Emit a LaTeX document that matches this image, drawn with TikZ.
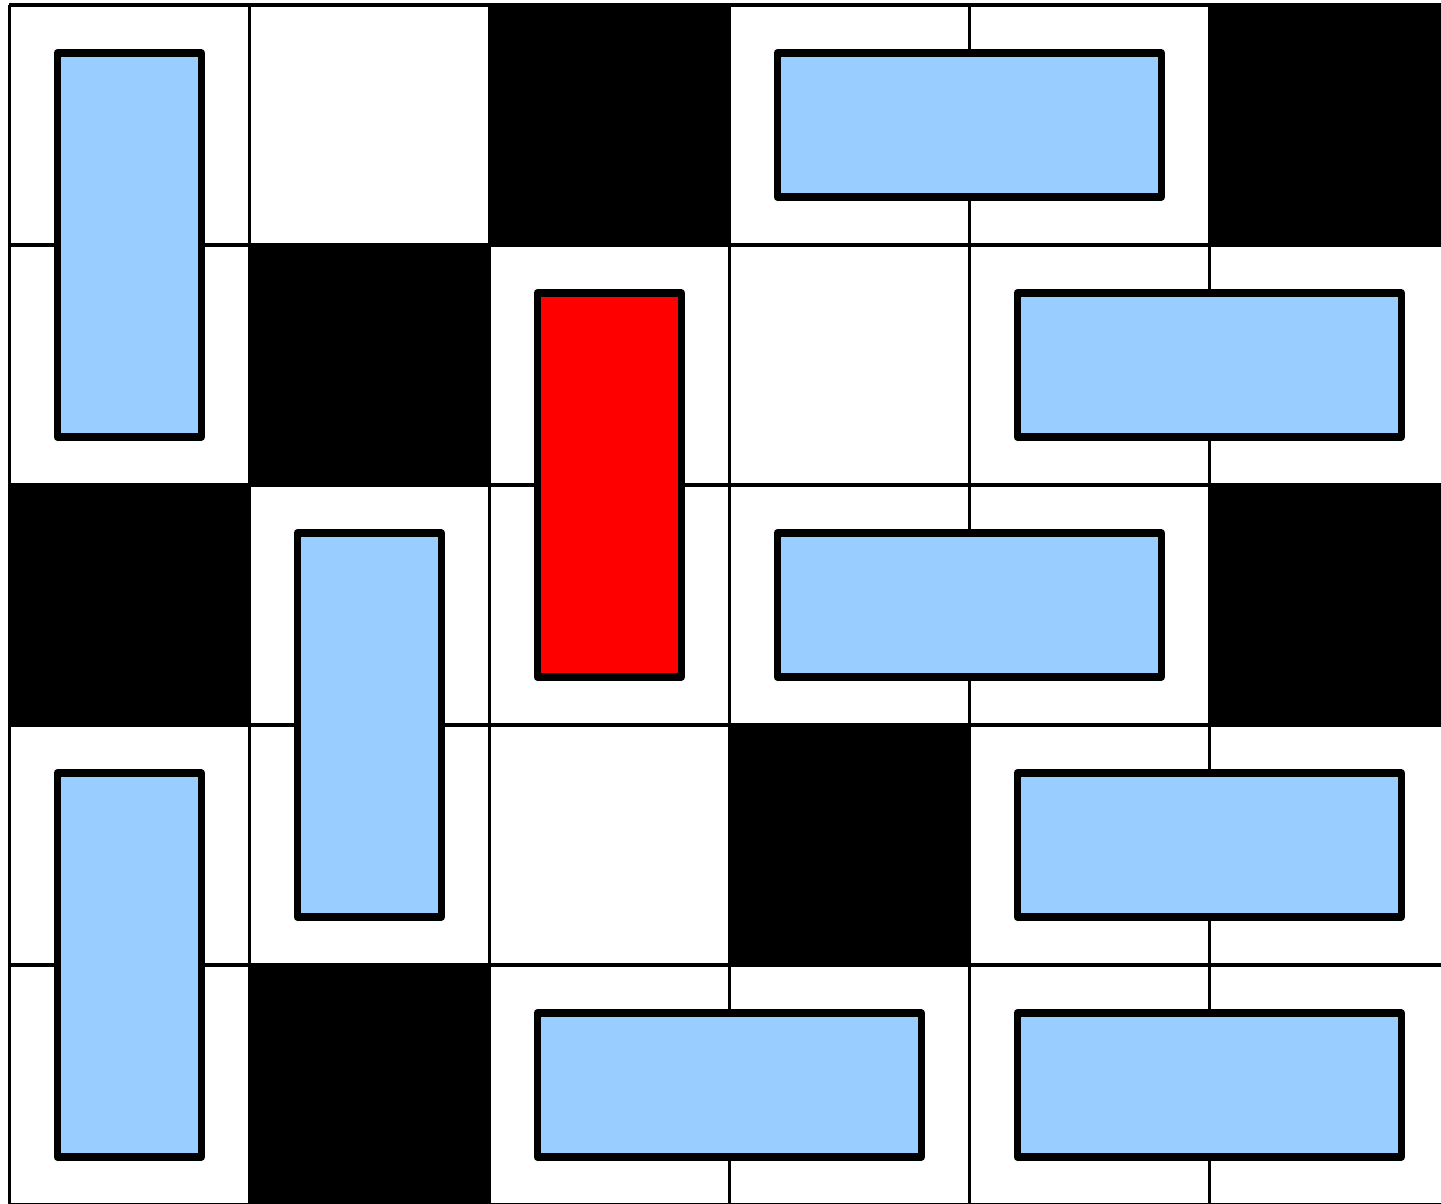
\documentclass[tikz,border=0pt]{standalone}
\definecolor{pieceblue}{HTML}{99CCFF}
\definecolor{piecered}{HTML}{FF0000}
\begin{document}
\begin{tikzpicture}[x=1pt,y=-1pt,
  cellblack/.style={fill=black,draw=none},
  gridline/.style={line width=3.6pt,draw=black},
  piece/.style={draw=black,line width=7.5pt,line join=round,fill=pieceblue},
  target/.style={piece,fill=piecered}]
\useasboundingbox (0,0) rectangle (1441,1204);
\clip (0,0) rectangle (1441,1204);
\fill[white] (0,0) rectangle (1441,1204);
\def\ox{9.3}\def\oy{5}\def\cs{240}\def\ins{48}
% black cells (col,row)
\foreach \c/\r in {2/0,5/0,1/1,0/2,5/2,3/3,1/4}{
  \path[cellblack] ({\ox+\cs*\c},{\oy+\cs*\r}) rectangle ({\ox+\cs*(\c+1)},{\oy+\cs*(\r+1)});
}
% grid
\foreach \i in {0,...,6}{
  \draw[gridline] ({\ox+\cs*\i},{\oy}) -- ({\ox+\cs*\i},{\oy+\cs*5});
}
\foreach \j in {0,...,5}{
  \draw[gridline] ({\ox},{\oy+\cs*\j}) -- ({\ox+\cs*6},{\oy+\cs*\j});
}
% blue pieces: c1/r1/c2/r2
\foreach \a/\b/\c/\d in {0/0/0/1, 3/0/4/0, 4/1/5/1, 3/2/4/2, 1/2/1/3, 0/3/0/4, 4/3/5/3, 2/4/3/4, 4/4/5/4}{
  \path[piece] ({\ox+\cs*\a+\ins},{\oy+\cs*\b+\ins}) rectangle ({\ox+\cs*(\c+1)-\ins},{\oy+\cs*(\d+1)-\ins});
}
% red piece
\path[target] ({\ox+\cs*2+\ins},{\oy+\cs*1+\ins}) rectangle ({\ox+\cs*3-\ins},{\oy+\cs*3-\ins});
\end{tikzpicture}
\end{document}
